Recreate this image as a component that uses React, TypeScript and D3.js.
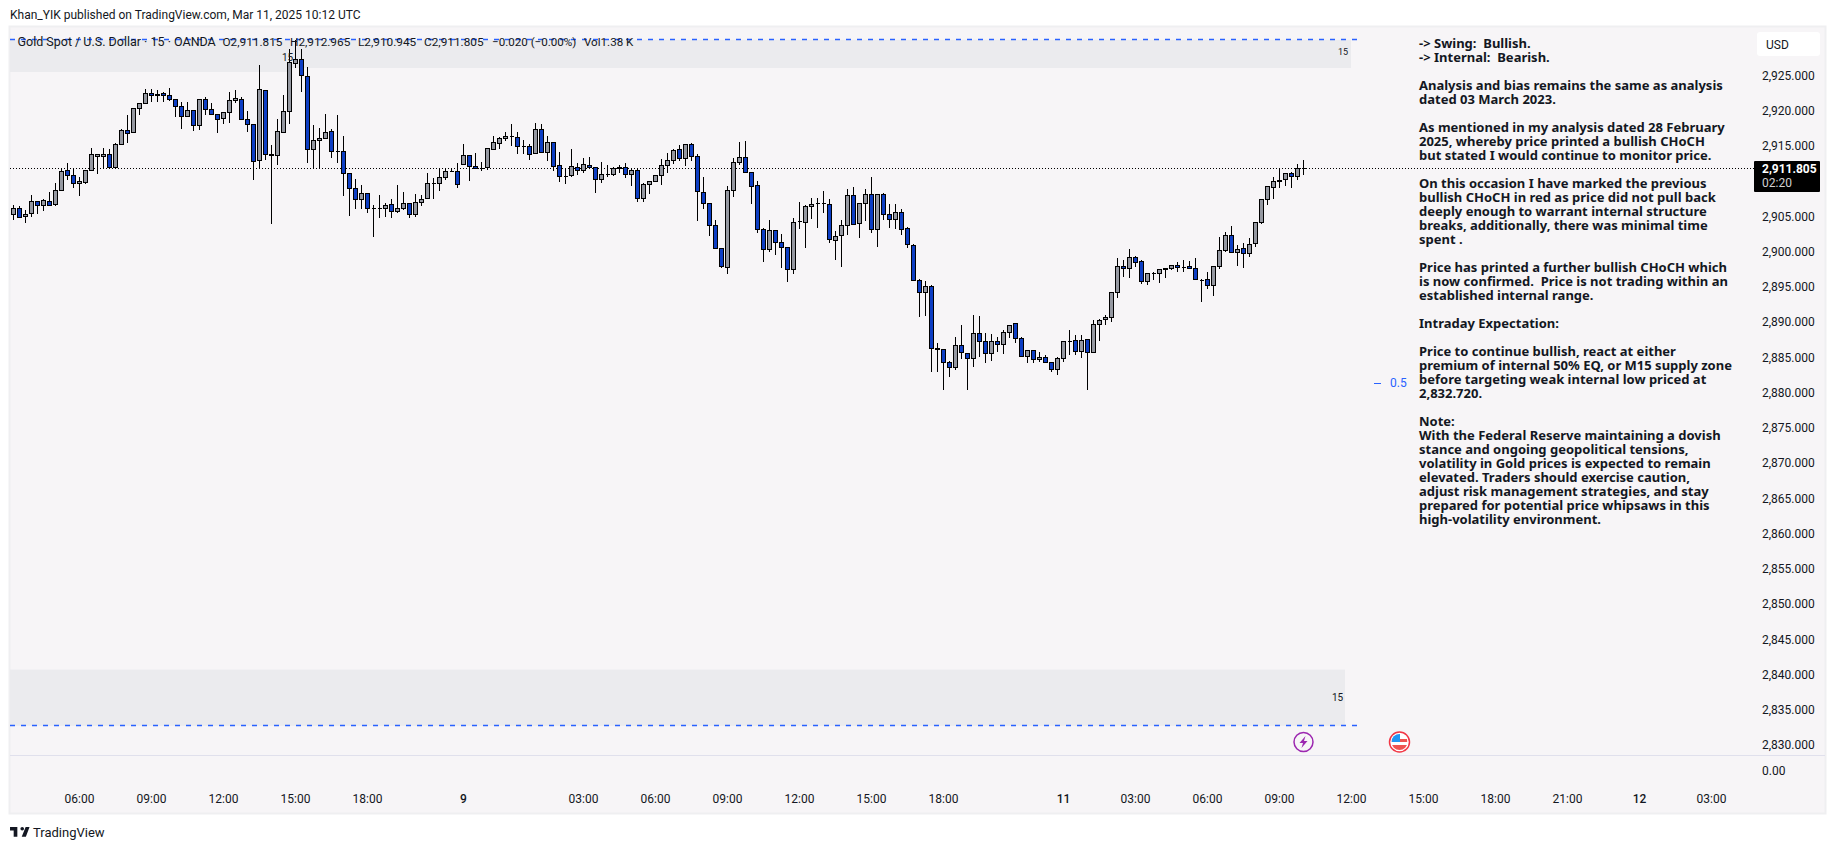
import { useEffect, useRef } from 'react';
import * as d3 from 'd3';

const WIDTH = 1835;
const HEIGHT = 849;

const opens = [
  2905.26,2906.11,2904.98,2905.40,2907.11,2906.54,2907.11,2906.68,2908.67,2911.51,
  2910.80,2909.67,2909.81,2911.51,2913.55,2913.50,2913.78,2911.94,2915.21,2917.19,
  2916.91,2920.32,2921.03,2922.45,2922.31,2922.45,2922.17,2921.60,2920.56,2919.18,
  2920.04,2917.90,2921.60,2920.18,2919.56,2918.90,2919.75,2921.46,2921.60,2918.76,
  2918.05,2912.93,2922.88,2913.78,2913.64,2916.91,2919.89,2926.71,2927.28,2924.86,
  2914.50,2915.77,2916.06,2917.05,2914.21,2914.21,2911.09,2908.96,2907.39,2908.25,
  2906.11,2906.11,2906.11,2906.68,2905.69,2906.11,2906.82,2905.26,2906.97,2907.53,
  2909.67,2909.67,2910.52,2911.37,2911.37,
  2912.37,2913.65,2912.09,2911.80,2911.94,2914.50,2915.35,2916.06,2916.35,2916.20,
  2914.93,2914.93,2913.93,2917.34,2914.07,2915.49,2912.23,2910.66,2910.81,2911.94,
  2911.52,2912.23,2911.94,2910.24,2910.95,2910.95,2911.94,2911.94,2910.95,2911.52,
  2907.54,2909.53,2909.95,2910.81,2912.23,2912.94,2914.50,2913.22,2915.21,2913.51,
  2908.39,2906.83,2903.70,2900.44,2897.74,2908.68,2912.65,2913.36,2911.23,2909.39,
  2903.14,2900.30,2902.99,2901.29,2900.58,2897.45,2904.27,2904.13,2906.40,2906.83,
  2906.83,2906.69,2901.57,2902.28,2903.70,2907.97,2903.99,2906.83,2908.11,2903.14,
  2908.11,2905.27,2904.56,
  2905.55,2903.28,2900.86,2895.89,2894.19,2895.04,2886.23,2886.09,2884.24,2883.53,
  2886.66,2885.52,2884.81,2888.36,2887.23,2885.52,2887.23,2886.80,2888.51,2889.78,
  2887.65,2885.10,2885.95,2884.67,2884.96,2884.24,2883.25,2884.81,2887.23,2887.37,
  2885.81,2887.51,2885.67,2889.64,2890.35,2890.64,2894.19,2897.88,2897.60,2899.16,
  2898.59,2895.75,2896.89,2896.89,2897.60,2897.60,2898.02,2897.74,2897.88,2897.60,
  2895.89,2896.04,2895.18,2897.88,2900.15,2902.29,2899.87,2900.44,2899.73,2901.15,
  2904.13,2907.40,2909.10,2910.10,2910.24,2911.09,2910.67,2911.815,
];

const highs = [
  2906.68,2906.49,2905.92,2908.01,2907.25,2907.44,2908.48,2909.81,2911.80,2912.55,
  2911.80,2910.66,2911.65,2914.78,2913.78,2914.78,2914.64,2915.49,2917.38,2919.37,
  2920.46,2921.17,2923.07,2923.07,2922.97,2922.69,2923.21,2921.74,2921.31,2921.31,
  2920.04,2921.64,2922.02,2921.17,2919.56,2919.75,2922.69,2922.97,2922.02,2920.04,
  2918.05,2926.47,2922.88,2915.11,2918.90,2922.31,2928.80,2930.10,2928.80,2926.29,
  2917.95,2917.62,2919.51,2917.48,2919.37,2916.39,2911.09,2910.28,2909.52,2908.25,
  2906.59,2908.10,2906.87,2907.44,2909.52,2908.53,2906.82,2908.25,2908.10,2911.23,
  2910.52,2911.94,2911.94,2911.94,2912.65,
  2915.35,2913.65,2914.07,2912.80,2914.78,2916.49,2916.25,2917.06,2918.10,2917.06,
  2915.92,2915.35,2918.34,2918.10,2916.49,2915.49,2914.22,2911.80,2914.64,2912.65,
  2913.36,2913.51,2911.94,2912.80,2912.27,2912.09,2912.37,2912.65,2911.75,2911.94,
  2909.81,2910.10,2910.81,2913.22,2914.07,2914.64,2915.21,2915.21,2915.49,2913.93,
  2910.66,2906.97,2904.56,2900.44,2909.39,2913.36,2915.54,2915.68,2911.23,2910.10,
  2903.42,2904.56,2902.99,2902.57,2900.58,2904.84,2907.02,2906.69,2907.68,2907.68,
  2908.68,2907.54,2902.99,2904.56,2908.96,2909.24,2906.83,2908.96,2910.66,2908.11,
  2908.39,2906.83,2906.83,
  2906.03,2903.56,2901.15,2896.18,2895.89,2895.32,2887.09,2886.09,2884.53,2887.94,
  2889.64,2885.67,2891.06,2890.92,2888.51,2888.36,2887.94,2888.93,2889.50,2889.93,
  2887.94,2885.95,2885.95,2885.81,2885.38,2884.24,2885.10,2887.37,2888.84,2888.22,
  2888.22,2887.51,2890.35,2890.50,2891.06,2894.19,2899.16,2898.88,2900.44,2899.44,
  2898.88,2897.03,2897.17,2897.46,2897.74,2898.17,2898.59,2898.88,2898.73,2899.16,
  2896.18,2897.17,2897.88,2902.05,2902.85,2903.71,2901.01,2901.29,2902.00,2904.13,
  2907.40,2909.39,2910.67,2911.80,2911.09,2911.38,2912.51,2912.965,
];

const lows = [
  2904.50,2904.79,2904.13,2904.98,2905.31,2905.78,2906.49,2906.49,2908.62,2910.23,
  2909.05,2907.91,2909.67,2911.42,2910.99,2911.94,2911.84,2911.80,2915.11,2915.39,
  2916.82,2919.37,2920.93,2921.27,2921.27,2921.27,2921.41,2919.18,2917.38,2919.14,
  2917.19,2917.29,2919.37,2919.47,2916.86,2918.14,2918.24,2921.17,2918.76,2917.00,
  2910.19,2911.80,2913.03,2903.94,2912.32,2916.82,2918.14,2926.14,2922.69,2912.55,
  2911.80,2911.80,2915.96,2913.31,2912.65,2907.91,2905.07,2906.07,2906.07,2905.55,
  2902.09,2904.84,2904.88,2904.84,2905.55,2905.92,2904.74,2904.98,2906.49,2907.44,
  2907.44,2908.62,2910.14,2911.32,2909.05,
  2912.32,2910.05,2911.75,2911.47,2911.61,2914.45,2914.55,2915.78,2915.02,2913.88,
  2913.88,2913.03,2913.93,2914.07,2912.89,2911.47,2909.91,2909.62,2910.66,2910.90,
  2911.19,2911.80,2908.34,2909.81,2910.66,2910.76,2911.23,2910.48,2909.34,2907.07,
  2907.07,2908.16,2909.91,2909.48,2911.19,2912.51,2912.94,2912.18,2912.94,2904.37,
  2906.02,2902.24,2900.44,2897.64,2896.84,2907.78,2912.32,2911.23,2906.78,2902.66,
  2898.54,2899.96,2899.54,2897.69,2895.70,2896.84,2903.23,2900.53,2904.65,2903.37,
  2905.50,2901.24,2898.83,2897.83,2902.38,2903.85,2901.95,2904.37,2902.66,2900.67,
  2904.56,2903.37,2903.28,
  2902.33,2900.53,2895.89,2890.73,2890.87,2882.92,2882.92,2880.36,2882.21,2883.20,
  2884.72,2880.36,2883.63,2885.05,2884.20,2884.48,2885.76,2885.48,2887.75,2887.04,
  2885.10,2884.20,2884.20,2884.34,2884.24,2882.92,2882.49,2884.34,2885.33,2885.33,
  2884.91,2880.36,2885.62,2887.32,2889.60,2890.02,2893.43,2896.41,2896.27,2897.83,
  2895.42,2895.28,2895.99,2895.56,2896.27,2897.41,2897.12,2897.12,2897.60,2896.04,
  2892.86,2894.71,2893.71,2897.60,2900.01,2899.87,2897.98,2897.69,2899.30,2900.72,
  2903.94,2906.64,2907.49,2909.10,2909.39,2909.06,2910.19,2910.945,
];

const closes = [
  2906.11,2904.93,2905.36,2907.11,2906.54,2907.25,2906.54,2908.67,2911.37,2910.80,
  2909.67,2909.95,2911.51,2913.78,2913.78,2913.78,2911.94,2915.21,2917.19,2916.77,
  2920.32,2921.03,2922.45,2922.17,2922.17,2922.17,2921.60,2920.56,2919.18,2920.04,
  2917.90,2921.60,2920.18,2919.56,2918.76,2919.75,2921.46,2921.74,2918.76,2918.05,
  2912.79,2923.02,2913.78,2913.64,2917.05,2919.89,2926.85,2927.28,2925.01,2914.50,
  2915.77,2916.06,2916.91,2914.21,2914.21,2911.09,2908.96,2907.39,2908.25,2906.11,
  2906.11,2906.11,2906.54,2905.69,2906.11,2906.82,2905.26,2906.97,2907.39,2909.67,
  2909.67,2910.52,2911.37,2911.37,2909.52,
  2913.65,2912.09,2911.80,2911.80,2914.64,2915.49,2916.06,2916.35,2916.35,2914.93,
  2914.93,2913.79,2917.34,2914.07,2915.49,2912.09,2910.66,2910.66,2912.09,2911.52,
  2912.37,2911.94,2910.24,2910.95,2910.95,2911.80,2911.80,2910.95,2911.52,2907.54,
  2909.53,2909.95,2910.81,2912.23,2912.94,2914.36,2913.22,2915.21,2913.51,2908.53,
  2906.83,2903.70,2900.44,2897.88,2908.68,2912.65,2913.36,2911.23,2909.24,2903.14,
  2900.30,2902.99,2901.29,2900.58,2897.45,2904.13,2904.27,2906.40,2906.69,2906.83,
  2906.83,2901.72,2902.14,2903.70,2907.97,2903.85,2906.83,2908.11,2903.14,2908.11,
  2905.27,2904.56,2905.55,
  2903.14,2901.01,2895.89,2894.19,2895.04,2886.23,2886.09,2884.24,2883.53,2886.66,
  2885.67,2884.81,2888.36,2887.23,2885.52,2887.23,2886.80,2888.51,2889.50,2887.65,
  2885.10,2885.95,2884.67,2884.96,2884.24,2883.25,2884.81,2887.23,2887.23,2885.81,
  2887.37,2885.67,2889.64,2890.21,2890.64,2894.19,2897.88,2897.60,2899.16,2898.45,
  2895.75,2896.89,2896.89,2897.46,2897.46,2898.02,2897.74,2897.74,2897.60,2896.04,
  2895.89,2895.18,2897.88,2900.15,2902.29,2899.87,2900.30,2899.73,2901.01,2904.13,
  2907.40,2909.25,2909.96,2909.96,2911.09,2910.67,2911.80,2911.805,
];

// bar index of every label on the time axis
const timeTicks: [number, string, boolean][] = [
  [11, '06:00', false], [23, '09:00', false], [35, '12:00', false], [47, '15:00', false],
  [59, '18:00', false], [75, '9', true], [95, '03:00', false], [107, '06:00', false],
  [119, '09:00', false], [131, '12:00', false], [143, '15:00', false], [155, '18:00', false],
  [175, '11', true], [187, '03:00', false], [199, '06:00', false], [211, '09:00', false],
  [223, '12:00', false], [235, '15:00', false], [247, '18:00', false], [259, '21:00', false],
  [271, '12', true], [283, '03:00', false],
];

const priceTicks = d3.range(2830, 2926, 5).filter(v => v !== 2910);
const lastPrice = 2911.805;
const weakHigh = 2930.1;
const weakLow = 2832.72;
const eqLevel = 2881.35;

const noteLines = [
  '-> Swing:  Bullish.',
  '-> Internal:  Bearish.',
  '',
  'Analysis and bias remains the same as analysis',
  'dated 03 March 2023.',
  '',
  'As mentioned in my analysis dated 28 February',
  '2025, whereby price printed a bullish CHoCH',
  'but stated I would continue to monitor price.',
  '',
  'On this occasion I have marked the previous',
  'bullish CHoCH in red as price did not pull back',
  'deeply enough to warrant internal structure',
  'breaks, additionally, there was minimal time',
  'spent .',
  '',
  'Price has printed a further bullish CHoCH which',
  'is now confirmed.  Price is not trading within an',
  'established internal range.',
  '',
  'Intraday Expectation:',
  '',
  'Price to continue bullish, react at either',
  'premium of internal 50% EQ, or M15 supply zone',
  'before targeting weak internal low priced at',
  '2,832.720.',
  '',
  'Note:',
  'With the Federal Reserve maintaining a dovish',
  'stance and ongoing geopolitical tensions,',
  'volatility in Gold prices is expected to remain',
  'elevated. Traders should exercise caution,',
  'adjust risk management strategies, and stay',
  'prepared for potential price whipsaws in this',
  'high-volatility environment.',
];

const legendParts: [number, string, number][] = [
  [17.5, 'Gold Spot / U.S. Dollar · 15 · OANDA', 12.5],
  [222.5, 'O2,911.815', 11.8],
  [290, 'H2,912.965', 11.8],
  [358, 'L2,910.945', 11.8],
  [424, 'C2,911.805', 11.8],
  [492, '−0.020 (−0.00%)', 11.6],
  [584, 'Vol1.38 K', 11.6],
];

const FONT = 'Roboto, sans-serif';
const INK = '#131722';
const PANE = '#f7f5f7';
const UP = '#9598a1';
const DOWN = '#0d3ec4';
const BLUE = '#2962ff';

export default function App() {
  const svgRef = useRef<SVGSVGElement>(null);

  useEffect(() => {
    if (!svgRef.current) return;
    const svg = d3.select(svgRef.current);
    svg.selectAll('*').remove();

    const x = d3.scaleLinear().domain([0, 215]).range([13.5, 1303.5]);
    const y = d3.scaleLinear().domain([2925, 2830]).range([75.7, 745]);
    const snap = (v: number) => Math.round(v - 0.5) + 0.5;

    const label = (px: number, py: number, text: string, size = 12, fill = INK, weight = 400) =>
      svg.append('text')
        .attr('x', px).attr('y', py)
        .attr('dy', '0.35em')
        .attr('font-family', FONT)
        .attr('font-size', size)
        .attr('font-weight', weight)
        .attr('fill', fill)
        .style('white-space', 'pre')
        .text(text);

    // panel
    svg.append('rect').attr('width', WIDTH).attr('height', HEIGHT).attr('fill', '#fff');
    svg.append('rect')
      .attr('x', 9.5).attr('y', 26.5).attr('width', 1816).attr('height', 787)
      .attr('fill', PANE).attr('stroke', '#efeff1').attr('stroke-width', 2);
    svg.append('line')
      .attr('x1', 10).attr('x2', 1825).attr('y1', 755.5).attr('y2', 755.5)
      .attr('stroke', '#e0e0ec');

    // supply and demand zones
    const zones = [
      { x1: 10, x2: 290, top: weakHigh, bottom: 2925.53 },
      { x1: 290, x2: 1351, top: weakHigh, bottom: 2926.09 },
      { x1: 10, x2: 1345, top: 2840.7, bottom: weakLow },
    ];
    svg.selectAll('.zone').data(zones).enter().append('rect')
      .attr('class', 'zone')
      .attr('x', d => d.x1)
      .attr('width', d => d.x2 - d.x1)
      .attr('y', d => y(d.top))
      .attr('height', d => y(d.bottom) - y(d.top))
      .attr('fill', '#ebebee');

    label(1338, 52, '15', 9);
    label(1332, 697, '15', 10);

    // weak high / weak low
    [weakHigh, weakLow].forEach(v => {
      svg.append('line')
        .attr('x1', 10).attr('x2', 1357)
        .attr('y1', snap(y(v))).attr('y2', snap(y(v)))
        .attr('stroke', BLUE).attr('stroke-width', 1.5).attr('stroke-dasharray', '5 6');
    });

    // 0.5 level
    svg.append('line')
      .attr('x1', 1374).attr('x2', 1381)
      .attr('y1', snap(y(eqLevel))).attr('y2', snap(y(eqLevel)))
      .attr('stroke', BLUE);
    label(1390, y(eqLevel), '0.5', 12, BLUE);

    // last price line
    svg.append('line')
      .attr('x1', 10).attr('x2', 1754)
      .attr('y1', snap(y(lastPrice))).attr('y2', snap(y(lastPrice)))
      .attr('stroke', '#000').attr('stroke-dasharray', '1 2')
      .attr('shape-rendering', 'crispEdges');

    // candles
    const candles = svg.append('g').attr('shape-rendering', 'crispEdges');
    opens.forEach((open, i) => {
      const cx = x(i);
      candles.append('line')
        .attr('x1', cx).attr('x2', cx)
        .attr('y1', Math.round(y(highs[i]))).attr('y2', Math.round(y(lows[i])))
        .attr('stroke', '#000');
      const body = d3.path();
      const top = snap(y(Math.max(open, closes[i])));
      const bottom = snap(y(Math.min(open, closes[i])));
      body.moveTo(cx - 2, top);
      body.lineTo(cx + 2, top);
      body.lineTo(cx + 2, bottom);
      body.lineTo(cx - 2, bottom);
      body.closePath();
      candles.append('path')
        .attr('d', body.toString())
        .attr('fill', closes[i] >= open ? UP : DOWN)
        .attr('stroke', '#000');
    });

    label(282, 57, '15', 10);

    // legend
    legendParts.forEach(([px, text, size]) => label(px, 41.5, text, size));

    // publisher line
    label(10, 14.5, 'Khan_YIK published on TradingView.com, Mar 11, 2025 10:12 UTC', 12);

    // analysis note
    noteLines.forEach((line, i) => {
      if (line) label(1419, 43.3 + i * 14, line, 13, INK, 700).attr('font-family', 'Noto Sans, sans-serif');
    });

    // price axis
    priceTicks.forEach(v => label(1762, y(v), d3.format(',.3f')(v)));
    label(1762, 770.5, '0.00');

    svg.append('rect')
      .attr('x', 1757).attr('y', 32).attr('width', 63).attr('height', 24).attr('rx', 3)
      .attr('fill', '#fff');
    label(1766, 44.5, 'USD');

    svg.append('rect')
      .attr('x', 1754).attr('y', 161).attr('width', 66).attr('height', 31).attr('rx', 1)
      .attr('fill', '#000');
    label(1762, 169, d3.format(',.3f')(lastPrice), 12, '#fff', 700);
    label(1762, 183, '02:20', 12, '#d0d0d0');

    // time axis
    timeTicks.forEach(([bar, text, strong]) => {
      label(x(bar), 799, text, 12, INK, strong ? 500 : 400).attr('text-anchor', 'middle');
    });

    // event markers
    const bolt = svg.append('g').attr('transform', 'translate(1303.5,742)');
    bolt.append('circle').attr('r', 9.5).attr('fill', PANE).attr('stroke', '#9c27b0').attr('stroke-width', 1.5);
    bolt.append('path').attr('d', 'M2,-6 L-4,1 L-0.5,1 L-2,6 L4,-1 L0.5,-1 Z').attr('fill', '#9c27b0');

    const flag = svg.append('g').attr('transform', 'translate(1399.5,742)');
    flag.append('circle').attr('r', 10).attr('fill', '#fff').attr('stroke', '#f23645').attr('stroke-width', 1.5);
    flag.append('defs').append('clipPath').attr('id', 'flag-clip').append('circle').attr('r', 8);
    const stripes = flag.append('g').attr('clip-path', 'url(#flag-clip)');
    stripes.append('rect').attr('x', -8).attr('y', -3).attr('width', 16).attr('height', 3).attr('fill', '#ef5350');
    stripes.append('rect').attr('x', -8).attr('y', 3).attr('width', 16).attr('height', 5).attr('fill', '#ef5350');
    stripes.append('rect').attr('x', -8).attr('y', -8).attr('width', 8.5).attr('height', 8).attr('fill', '#2196f3');

    // TradingView mark
    svg.append('path')
      .attr('transform', 'translate(8.8,823.3) scale(0.61)')
      .attr('d', 'M14 6H2v6h6v10h6V6zm14 16h-6.8l6.4-16H34l-6 16zM22 6a3 3 0 1 1 0 6 3 3 0 0 1 0-6z')
      .attr('fill', INK);
    label(33, 832, 'TradingView', 13);
  }, []);

  return (
    <svg
      ref={svgRef}
      width={WIDTH}
      height={HEIGHT}
      style={{ position: 'fixed', top: 0, left: 0, display: 'block' }}
    />
  );
}
